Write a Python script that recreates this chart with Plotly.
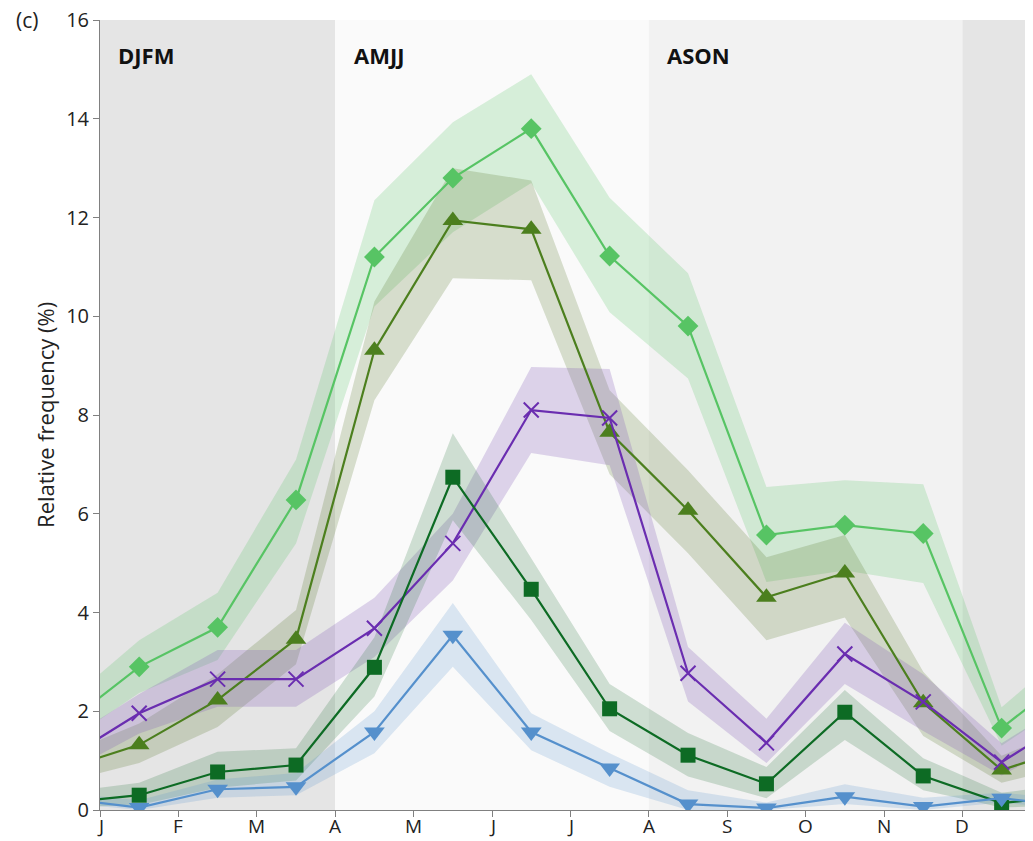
import plotly.graph_objects as go

months = ["J", "F", "M", "A", "M", "J", "J", "A", "S", "O", "N", "D"]

# Light green diamonds
g_val = [2.9, 3.7, 6.28, 11.2, 12.8, 13.8, 11.22, 9.8, 5.57, 5.77, 5.6, 1.66]
g_up = [3.44, 4.4, 7.1, 12.35, 13.93, 14.9, 12.4, 10.87, 6.54, 6.68, 6.6, 2.08]
g_lo = [2.37, 3.04, 5.4, 10.2, 11.7, 12.7, 10.08, 8.74, 4.62, 4.85, 4.6, 1.3]

# Olive triangles (up)
o_val = [1.32, 2.23, 3.46, 9.31, 11.94, 11.76, 7.65, 6.07, 4.31, 4.8, 2.17, 0.81]
o_up = [1.75, 2.75, 4.05, 10.3, 13.0, 12.75, 8.5, 6.88, 5.12, 5.57, 2.8, 1.1]
o_lo = [0.95, 1.68, 2.95, 8.3, 10.77, 10.73, 6.8, 5.2, 3.44, 3.9, 1.5, 0.55]

# Purple crosses
p_val = [1.96, 2.65, 2.65, 3.68, 5.4, 8.1, 7.94, 2.77, 1.36, 3.16, 2.19, 0.97]
p_up = [2.35, 3.24, 3.24, 4.3, 6.0, 8.97, 8.93, 3.3, 1.85, 3.79, 2.75, 1.35]
p_lo = [1.55, 2.09, 2.09, 3.1, 4.65, 7.23, 6.98, 2.2, 0.95, 2.55, 1.6, 0.7]

# Dark green squares
d_val = [0.3, 0.77, 0.91, 2.89, 6.74, 4.47, 2.05, 1.11, 0.53, 1.98, 0.69, 0.14]
d_up = [0.55, 1.18, 1.25, 3.5, 7.63, 5.1, 2.55, 1.56, 0.87, 2.43, 1.05, 0.35]
d_lo = [0.1, 0.45, 0.6, 2.3, 5.87, 3.85, 1.6, 0.68, 0.24, 1.42, 0.4, 0.05]

# Blue triangles (down)
b_val = [0.05, 0.42, 0.47, 1.58, 3.54, 1.58, 0.85, 0.12, 0.04, 0.27, 0.07, 0.24]
b_up = [0.2, 0.62, 0.75, 2.0, 4.19, 1.96, 1.15, 0.4, 0.15, 0.52, 0.25, 0.35]
b_lo = [0.0, 0.25, 0.3, 1.15, 2.9, 1.21, 0.47, 0.0, 0.0, 0.12, 0.0, 0.15]

seasons = [("DJFM", 0, 3, "#e5e5e5"), ("AMJJ", 3, 7, "#fafafa"),
           ("ASON", 7, 11, "#f2f2f2"), ("", 11, 12.5, "#e5e5e5")]

mid = [i + 0.5 for i in range(12)]
xs = [-0.5] + mid + [12.5]


def wrap(v):
    return [v[-1]] + list(v) + [v[0]]


series = [
    (g_val, g_up, g_lo, "#57c464", "rgba(87,196,100,0.22)", "diamond", 16),
    (o_val, o_up, o_lo, "#4c7f1e", "rgba(88,120,40,0.22)", "triangle-up", 18),
    (p_val, p_up, p_lo, "#6a2db0", "rgba(130,90,185,0.25)", "x-thin-open", 15),
    (d_val, d_up, d_lo, "#0d6b24", "rgba(30,110,50,0.2)", "square", 15),
    (b_val, b_up, b_lo, "#5590cc", "rgba(85,144,204,0.2)", "triangle-down", 18),
]

FONT = "Open Sans, Lato, sans-serif"

fig = go.Figure()

for val, up, lo, col, fcol, sym, sz in series:
    u = wrap(up)
    l = wrap(lo)
    fig.add_trace(go.Scatter(
        x=xs + xs[::-1], y=u + l[::-1], fill="toself", fillcolor=fcol,
        line=dict(width=0), mode="lines", hoverinfo="skip", showlegend=False))

for val, up, lo, col, fcol, sym, sz in series:
    fig.add_trace(go.Scatter(
        x=xs, y=wrap(val), mode="lines+markers",
        line=dict(color=col, width=2.2),
        marker=dict(symbol=sym, size=sz, color=col,
                    line=dict(color=col, width=2 if sym.startswith("x") else 0)),
        showlegend=False))

shapes = []
annotations = []
for name, x0, x1, c in seasons:
    shapes.append(dict(type="rect", xref="x", yref="y", x0=x0, x1=x1, y0=0, y1=16,
                       fillcolor=c, line=dict(width=0), layer="below"))
    if name:
        annotations.append(dict(x=x0 + 0.21, y=15.3, xref="x", yref="y", text="<b>%s</b>" % name,
                                showarrow=False, xanchor="left", yanchor="middle",
                                font=dict(family=FONT, size=22, color="#111111")))

# month tick labels (as annotations so they sit high enough not to be clipped)
for i, m in enumerate(months):
    annotations.append(dict(x=i, y=0, xref="x", yref="paper", text=m, showarrow=False,
                            xanchor="center", yanchor="middle", yshift=-16,
                            font=dict(family=FONT, size=19, color="#222222")))

annotations.append(dict(x=-0.092, y=1.0, xref="paper", yref="paper", text="(c)",
                        showarrow=False, xanchor="left", yanchor="middle",
                        font=dict(family=FONT, size=21, color="#222222")))
annotations.append(dict(x=-0.059, y=0.5, xref="paper", yref="paper", text="Relative frequency (%)",
                        showarrow=False, textangle=-90, xanchor="center", yanchor="middle",
                        font=dict(family=FONT, size=22, color="#222222")))

fig.update_layout(
    width=1025, height=833,
    margin=dict(l=92, r=0, t=12, b=31, autoexpand=False),
    paper_bgcolor="white", plot_bgcolor="white",
    shapes=shapes, annotations=annotations,
    xaxis=dict(range=[0, 11.9], tickmode="array", tickvals=list(range(12)),
               showticklabels=False, automargin=False,
               showgrid=False, zeroline=False, showline=True, linecolor="#808080", linewidth=1,
               ticks="outside", ticklen=6, tickcolor="#808080"),
    yaxis=dict(range=[0, 16], tickvals=list(range(0, 17, 2)),
               automargin=False, ticklabeloverflow="allow",
               showgrid=False, zeroline=False, showline=True, linecolor="#808080", linewidth=1,
               ticks="outside", ticklen=6, tickcolor="#808080",
               tickfont=dict(family=FONT, size=20, color="#222222")),
)

fig.write_html("out.html")
